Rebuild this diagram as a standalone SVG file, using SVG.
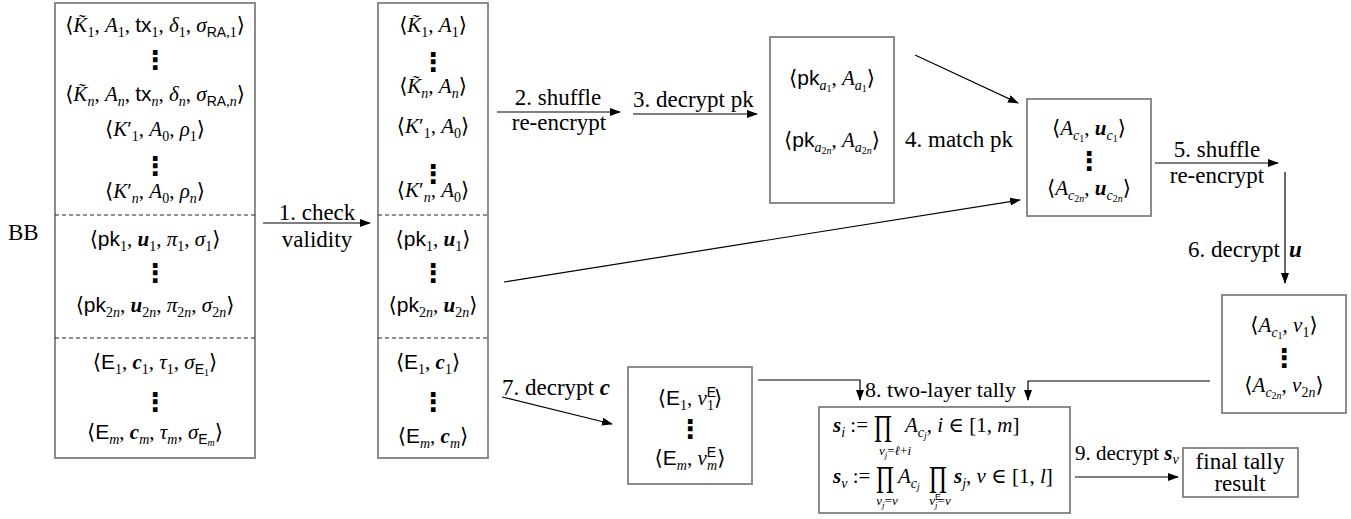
<svg xmlns="http://www.w3.org/2000/svg" width="1351" height="519" viewBox="0 0 1351 519">
<style>
.box{fill:#fff;stroke:#808080;stroke-width:1.8}
.dash{stroke:#222;stroke-width:1;stroke-dasharray:4 3}
.m{font-family:"Liberation Serif","DejaVu Serif",serif;font-size:21px;fill:#000}
.lbl{font-family:"Liberation Serif","DejaVu Serif",serif;font-size:23px;fill:#000}
.i{font-style:italic}
.sf{font-family:"Liberation Sans","DejaVu Sans",sans-serif;font-style:normal}
.bi{font-style:italic;font-weight:bold}
.s{font-size:14px}
.dots{font-family:"DejaVu Sans",sans-serif;font-size:26px;font-weight:bold;fill:#000}
.big{font-family:"Liberation Serif","DejaVu Serif",serif;font-size:40px;fill:#000}
.c{stroke:#000;stroke-width:1.2;fill:none}
</style>
<defs>
<marker id="ah" markerWidth="11" markerHeight="8" refX="10" refY="4" orient="auto" markerUnits="userSpaceOnUse">
<path d="M0,0 L11,4 L0,8 z" fill="#000"/>
</marker>
</defs>

<text x="8" y="240" class="lbl">BB</text>

<g id="bb">
<rect class="box" x="55" y="3" width="200" height="455"/>
<line class="dash" x1="55" y1="215" x2="255" y2="215"/>
<line class="dash" x1="55" y1="338" x2="255" y2="338"/>
<g class="m" text-anchor="middle">
<text x="155" y="32">⟨<tspan class="i">K̃</tspan><tspan class="s" dy="5">1</tspan><tspan dy="-5">, </tspan><tspan class="i">A</tspan><tspan class="s" dy="5">1</tspan><tspan dy="-5">, </tspan><tspan class="sf">tx</tspan><tspan class="s" dy="5">1</tspan><tspan dy="-5">, </tspan><tspan class="i">δ</tspan><tspan class="s" dy="5">1</tspan><tspan dy="-5">, </tspan><tspan class="i">σ</tspan><tspan class="s sf" dy="5">RA</tspan><tspan class="s">,1</tspan><tspan dy="-5">⟩</tspan></text>
<text x="155" y="101">⟨<tspan class="i">K̃</tspan><tspan class="s i" dy="5">n</tspan><tspan dy="-5">, </tspan><tspan class="i">A</tspan><tspan class="s i" dy="5">n</tspan><tspan dy="-5">, </tspan><tspan class="sf">tx</tspan><tspan class="s i" dy="5">n</tspan><tspan dy="-5">, </tspan><tspan class="i">δ</tspan><tspan class="s i" dy="5">n</tspan><tspan dy="-5">, </tspan><tspan class="i">σ</tspan><tspan class="s sf" dy="5">RA</tspan><tspan class="s">,</tspan><tspan class="s i">n</tspan><tspan dy="-5">⟩</tspan></text>
<text x="155" y="136">⟨<tspan class="i">K</tspan>′<tspan class="s" dy="5">1</tspan><tspan dy="-5">, </tspan><tspan class="i">A</tspan><tspan class="s" dy="5">0</tspan><tspan dy="-5">, </tspan><tspan class="i">ρ</tspan><tspan class="s" dy="5">1</tspan><tspan dy="-5">⟩</tspan></text>
<text x="155" y="198">⟨<tspan class="i">K</tspan>′<tspan class="s i" dy="5">n</tspan><tspan dy="-5">, </tspan><tspan class="i">A</tspan><tspan class="s" dy="5">0</tspan><tspan dy="-5">, </tspan><tspan class="i">ρ</tspan><tspan class="s i" dy="5">n</tspan><tspan dy="-5">⟩</tspan></text>
<text x="155" y="246">⟨<tspan class="sf">pk</tspan><tspan class="s" dy="5">1</tspan><tspan dy="-5">, </tspan><tspan class="bi">u</tspan><tspan class="s" dy="5">1</tspan><tspan dy="-5">, </tspan><tspan class="i">π</tspan><tspan class="s" dy="5">1</tspan><tspan dy="-5">, </tspan><tspan class="i">σ</tspan><tspan class="s" dy="5">1</tspan><tspan dy="-5">⟩</tspan></text>
<text x="155" y="312">⟨<tspan class="sf">pk</tspan><tspan class="s" dy="5">2</tspan><tspan class="s i">n</tspan><tspan dy="-5">, </tspan><tspan class="bi">u</tspan><tspan class="s" dy="5">2</tspan><tspan class="s i">n</tspan><tspan dy="-5">, </tspan><tspan class="i">π</tspan><tspan class="s" dy="5">2</tspan><tspan class="s i">n</tspan><tspan dy="-5">, </tspan><tspan class="i">σ</tspan><tspan class="s" dy="5">2</tspan><tspan class="s i">n</tspan><tspan dy="-5">⟩</tspan></text>
<text x="155" y="369">⟨<tspan class="sf">E</tspan><tspan class="s" dy="5">1</tspan><tspan dy="-5">, </tspan><tspan class="bi">c</tspan><tspan class="s" dy="5">1</tspan><tspan dy="-5">, </tspan><tspan class="i">τ</tspan><tspan class="s" dy="5">1</tspan><tspan dy="-5">, </tspan><tspan class="i">σ</tspan><tspan class="s sf" dy="5">E</tspan><tspan style="font-size:10px" dy="2">1</tspan><tspan dy="-7">⟩</tspan></text>
<text x="155" y="439">⟨<tspan class="sf">E</tspan><tspan class="s i" dy="5">m</tspan><tspan dy="-5">, </tspan><tspan class="bi">c</tspan><tspan class="s i" dy="5">m</tspan><tspan dy="-5">, </tspan><tspan class="i">τ</tspan><tspan class="s i" dy="5">m</tspan><tspan dy="-5">, </tspan><tspan class="i">σ</tspan><tspan class="s sf" dy="5">E</tspan><tspan class="i" style="font-size:10px" dy="2">m</tspan><tspan dy="-7">⟩</tspan></text>
</g>
<g class="dots" text-anchor="middle">
<text x="155" y="69">⋮</text>
<text x="155" y="175">⋮</text>
<text x="155" y="282">⋮</text>
<text x="155" y="411">⋮</text>
</g>
</g>

<g id="filtered">
<rect class="box" x="378" y="3" width="110" height="455"/>
<line class="dash" x1="378" y1="215" x2="488" y2="215"/>
<line class="dash" x1="378" y1="338" x2="488" y2="338"/>
<g class="m" text-anchor="middle">
<text x="433" y="32">⟨<tspan class="i">K̃</tspan><tspan class="s" dy="5">1</tspan><tspan dy="-5">, </tspan><tspan class="i">A</tspan><tspan class="s" dy="5">1</tspan><tspan dy="-5">⟩</tspan></text>
<text x="433" y="93">⟨<tspan class="i">K̃</tspan><tspan class="s i" dy="5">n</tspan><tspan dy="-5">, </tspan><tspan class="i">A</tspan><tspan class="s i" dy="5">n</tspan><tspan dy="-5">⟩</tspan></text>
<text x="433" y="133">⟨<tspan class="i">K</tspan>′<tspan class="s" dy="5">1</tspan><tspan dy="-5">, </tspan><tspan class="i">A</tspan><tspan class="s" dy="5">0</tspan><tspan dy="-5">⟩</tspan></text>
<text x="433" y="197">⟨<tspan class="i">K</tspan>′<tspan class="s i" dy="5">n</tspan><tspan dy="-5">, </tspan><tspan class="i">A</tspan><tspan class="s" dy="5">0</tspan><tspan dy="-5">⟩</tspan></text>
<text x="433" y="246">⟨<tspan class="sf">pk</tspan><tspan class="s" dy="5">1</tspan><tspan dy="-5">, </tspan><tspan class="bi">u</tspan><tspan class="s" dy="5">1</tspan><tspan dy="-5">⟩</tspan></text>
<text x="433" y="312">⟨<tspan class="sf">pk</tspan><tspan class="s" dy="5">2</tspan><tspan class="s i">n</tspan><tspan dy="-5">, </tspan><tspan class="bi">u</tspan><tspan class="s" dy="5">2</tspan><tspan class="s i">n</tspan><tspan dy="-5">⟩</tspan></text>
<text x="428" y="369">⟨<tspan class="sf">E</tspan><tspan class="s" dy="5">1</tspan><tspan dy="-5">, </tspan><tspan class="bi">c</tspan><tspan class="s" dy="5">1</tspan><tspan dy="-5">⟩</tspan></text>
<text x="433" y="443">⟨<tspan class="sf">E</tspan><tspan class="s i" dy="5">m</tspan><tspan dy="-5">, </tspan><tspan class="bi">c</tspan><tspan class="s i" dy="5">m</tspan><tspan dy="-5">⟩</tspan></text>
</g>
<g class="dots" text-anchor="middle">
<text x="433" y="71">⋮</text>
<text x="433" y="183">⋮</text>
<text x="433" y="282">⋮</text>
<text x="433" y="411">⋮</text>
</g>
</g>

<g id="pkbox">
<rect class="box" x="770" y="37" width="124" height="166"/>
<g class="m" text-anchor="middle">
<text x="832" y="85">⟨<tspan class="sf">pk</tspan><tspan class="s i" dy="5">a</tspan><tspan style="font-size:10px" dy="2">1</tspan><tspan dy="-7">, </tspan><tspan class="i">A</tspan><tspan class="s i" dy="5">a</tspan><tspan style="font-size:10px" dy="2">1</tspan><tspan dy="-7">⟩</tspan></text>
<text x="832" y="147">⟨<tspan class="sf">pk</tspan><tspan class="s i" dy="5">a</tspan><tspan style="font-size:10px" dy="2">2</tspan><tspan class="i" style="font-size:10px">n</tspan><tspan dy="-7">, </tspan><tspan class="i">A</tspan><tspan class="s i" dy="5">a</tspan><tspan style="font-size:10px" dy="2">2</tspan><tspan class="i" style="font-size:10px">n</tspan><tspan dy="-7">⟩</tspan></text>
</g>
</g>

<g id="matchbox">
<rect class="box" x="1027" y="99" width="124" height="117"/>
<g class="m" text-anchor="middle">
<text x="1089" y="135">⟨<tspan class="i">A</tspan><tspan class="s i" dy="5">c</tspan><tspan style="font-size:10px" dy="2">1</tspan><tspan dy="-7">, </tspan><tspan class="bi">u</tspan><tspan class="s i" dy="5">c</tspan><tspan style="font-size:10px" dy="2">1</tspan><tspan dy="-7">⟩</tspan></text>
<text x="1089" y="195">⟨<tspan class="i">A</tspan><tspan class="s i" dy="5">c</tspan><tspan style="font-size:10px" dy="2">2</tspan><tspan class="i" style="font-size:10px">n</tspan><tspan dy="-7">, </tspan><tspan class="bi">u</tspan><tspan class="s i" dy="5">c</tspan><tspan style="font-size:10px" dy="2">2</tspan><tspan class="i" style="font-size:10px">n</tspan><tspan dy="-7">⟩</tspan></text>
</g>
<text x="1089" y="170" class="dots" text-anchor="middle">⋮</text>
</g>

<g id="votebox">
<rect class="box" x="1222" y="295" width="124" height="118"/>
<g class="m" text-anchor="middle">
<text x="1284" y="332">⟨<tspan class="i">A</tspan><tspan class="s i" dy="5">c</tspan><tspan style="font-size:10px" dy="2">1</tspan><tspan dy="-7">, </tspan><tspan class="i">v</tspan><tspan class="s" dy="5">1</tspan><tspan dy="-5">⟩</tspan></text>
<text x="1284" y="392">⟨<tspan class="i">A</tspan><tspan class="s i" dy="5">c</tspan><tspan style="font-size:10px" dy="2">2</tspan><tspan class="i" style="font-size:10px">n</tspan><tspan dy="-7">, </tspan><tspan class="i">v</tspan><tspan class="s" dy="5">2</tspan><tspan class="s i">n</tspan><tspan dy="-5">⟩</tspan></text>
</g>
<text x="1284" y="367" class="dots" text-anchor="middle">⋮</text>
</g>

<g id="ebox">
<rect class="box" x="628" y="367" width="124" height="117"/>
<g class="m" text-anchor="middle">
<text x="690" y="405">⟨<tspan class="sf">E</tspan><tspan class="s" dy="5">1</tspan><tspan dy="-5">, </tspan><tspan class="i">v</tspan><tspan class="s sf" dy="-8">E</tspan><tspan class="s" dx="-9" dy="13">1</tspan><tspan dy="-5">⟩</tspan></text>
<text x="690" y="465">⟨<tspan class="sf">E</tspan><tspan class="s i" dy="5">m</tspan><tspan dy="-5">, </tspan><tspan class="i">v</tspan><tspan class="s sf" dy="-8">E</tspan><tspan class="s i" dx="-9" dy="13">m</tspan><tspan dy="-5">⟩</tspan></text>
</g>
<text x="690" y="438" class="dots" text-anchor="middle">⋮</text>
</g>

<g id="tallybox">
<rect class="box" x="819" y="407" width="251" height="106"/>
<g class="m">
<text x="833" y="432"><tspan class="bi">s</tspan><tspan class="s i" dy="5">i</tspan><tspan dy="-5"> :=</tspan></text>
<text x="905" y="432"><tspan class="i">A</tspan><tspan class="s i" dy="5">c</tspan><tspan class="i" style="font-size:10px" dy="2">j</tspan><tspan dy="-7">, </tspan><tspan class="i">i</tspan> ∈ [1, <tspan class="i">m</tspan>]</text>
<text x="833" y="483"><tspan class="bi">s</tspan><tspan class="s i" dy="5">v</tspan><tspan dy="-5"> :=</tspan></text>
<text x="898" y="483"><tspan class="i">A</tspan><tspan class="s i" dy="5">c</tspan><tspan class="i" style="font-size:10px" dy="2">j</tspan></text>
<text x="954" y="483"><tspan class="bi">s</tspan><tspan class="s i" dy="5">j</tspan><tspan dy="-5">, </tspan><tspan class="i">v</tspan> ∈ [1, <tspan class="i">l</tspan>]</text>
</g>
<g class="big">
<text transform="translate(874,442) scale(0.62,1)">Π</text>
<text transform="translate(876,493) scale(0.62,1)">Π</text>
<text transform="translate(929,493) scale(0.62,1)">Π</text>
</g>
<g class="m" style="font-size:13px" text-anchor="middle">
<text x="895" y="455"><tspan class="i">v</tspan><tspan class="i" style="font-size:9px" dy="3">j</tspan><tspan dy="-3">=</tspan><tspan class="i">ℓ</tspan>+<tspan class="i">i</tspan></text>
<text x="887" y="505"><tspan class="i">v</tspan><tspan class="i" style="font-size:9px" dy="3">j</tspan><tspan dy="-3">=</tspan><tspan class="i">v</tspan></text>
<text x="940" y="505"><tspan class="i">v</tspan><tspan class="sf" style="font-size:9px" dy="-5">E</tspan><tspan class="i" style="font-size:9px" dx="-6" dy="8">j</tspan><tspan dy="-3">=</tspan><tspan class="i">v</tspan></text>
</g>
</g>

<g id="finalbox">
<rect class="box" x="1183" y="448" width="115" height="49"/>
<text x="1240" y="469" class="lbl" text-anchor="middle">final tally</text>
<text x="1240" y="491" class="lbl" text-anchor="middle">result</text>
</g>

<g id="connectors">
<line class="c" x1="263" y1="223" x2="370" y2="223" marker-end="url(#ah)"/>
<line class="c" x1="497" y1="112" x2="620" y2="112" marker-end="url(#ah)"/>
<line class="c" x1="633" y1="114" x2="757" y2="114" marker-end="url(#ah)"/>
<line class="c" x1="915" y1="55" x2="1018" y2="103" marker-end="url(#ah)"/>
<line class="c" x1="504" y1="282" x2="1020" y2="200" marker-end="url(#ah)"/>
<line class="c" x1="1155" y1="163" x2="1278" y2="163" marker-end="url(#ah)"/>
<line class="c" x1="1285" y1="172" x2="1285" y2="283" marker-end="url(#ah)"/>
<line class="c" x1="502" y1="397" x2="612" y2="424" marker-end="url(#ah)"/>
<polyline class="c" points="758,380 860,380 860,400" marker-end="url(#ah)"/>
<polyline class="c" points="1210,381 1028,381 1028,400" marker-end="url(#ah)"/>
<line class="c" x1="1075" y1="477" x2="1178" y2="477" marker-end="url(#ah)"/>
</g>

<g id="labels" class="lbl">
<text x="317" y="220" text-anchor="middle">1. check</text>
<text x="317" y="247" text-anchor="middle">validity</text>
<text x="558" y="105" text-anchor="middle">2. shuffle</text>
<text x="559" y="130" text-anchor="middle">re-encrypt</text>
<text x="633" y="107">3. decrypt pk</text>
<text x="905" y="147">4. match pk</text>
<text x="1217" y="157" text-anchor="middle">5. shuffle</text>
<text x="1217" y="183" text-anchor="middle">re-encrypt</text>
<text x="1188" y="257">6. decrypt</text>
<text x="1289" y="257" class="bi">u</text>
<text x="502" y="395">7. decrypt <tspan class="bi">c</tspan></text>
<text x="865" y="397" style="font-size:22px">8. two-layer tally</text>
<text x="1075" y="460" style="font-size:21px">9. decrypt <tspan class="bi">s</tspan><tspan class="i" style="font-size:14px" dy="4">v</tspan></text>
</g>
</svg>
